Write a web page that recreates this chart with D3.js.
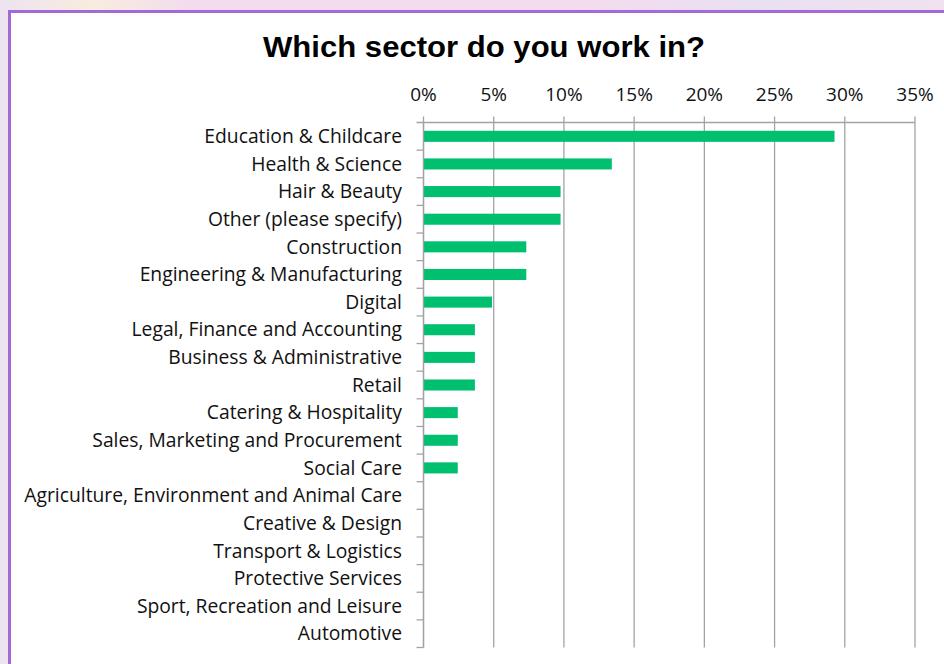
<!DOCTYPE html>
<html>
<head>
<meta charset="utf-8">
<script src="https://cdn.jsdelivr.net/npm/d3@7"></script>
<style>
  html, body { margin: 0; padding: 0; background: #f1e2f0; }
  svg { display: block; }
</style>
</head>
<body>
<svg id="chart" width="944" height="664"></svg>
<script>
// Survey answers: share of respondents per sector (%)
const sectors = [
  "Education & Childcare",
  "Health & Science",
  "Hair & Beauty",
  "Other (please specify)",
  "Construction",
  "Engineering & Manufacturing",
  "Digital",
  "Legal, Finance and Accounting",
  "Business & Administrative",
  "Retail",
  "Catering & Hospitality",
  "Sales, Marketing and Procurement",
  "Social Care",
  "Agriculture, Environment and Animal Care",
  "Creative & Design",
  "Transport & Logistics",
  "Protective Services",
  "Sport, Recreation and Leisure",
  "Automotive"
];
const shares = [29.27, 13.41, 9.76, 9.76, 7.32, 7.32, 4.88, 3.66, 3.66, 3.66, 2.44, 2.44, 2.44, 0, 0, 0, 0, 0, 0];
const tickValues = [0, 5, 10, 15, 20, 25, 30, 35];
const title = "Which sector do you work in?";

const svg = d3.select("#chart");
const W = 944, H = 664;

// backdrop with soft tint variations
const defs = svg.append("defs");
const bg = defs.append("linearGradient").attr("id", "bg").attr("x1", 0).attr("x2", 1).attr("y1", 0).attr("y2", 0);
bg.append("stop").attr("offset", "0%").attr("stop-color", "#ede3f1");
bg.append("stop").attr("offset", "10%").attr("stop-color", "#f8ecdf");
bg.append("stop").attr("offset", "20%").attr("stop-color", "#f3dcee");
bg.append("stop").attr("offset", "60%").attr("stop-color", "#f4dcee");
bg.append("stop").attr("offset", "80%").attr("stop-color", "#e9e0f1");
bg.append("stop").attr("offset", "100%").attr("stop-color", "#f0e2ef");
svg.append("rect").attr("width", W).attr("height", H).attr("fill", "url(#bg)");

// chart panel
svg.append("rect")
  .attr("x", 9.5).attr("y", 11.5)
  .attr("width", W + 20).attr("height", H + 20)
  .attr("fill", "#ffffff")
  .attr("stroke", "#a36ad6")
  .attr("stroke-width", 3);

const plotLeft = 423.5, plotRight = 915, plotTop = 122.5, plotBottom = 647.5;

const x = d3.scaleLinear().domain([0, 35]).range([plotLeft, plotRight]);
const y = d3.scaleBand().domain(sectors).range([plotTop, plotBottom]).paddingInner(0.6).paddingOuter(0.3);
const yb = d3.scaleBand().domain(sectors).range([plotTop, plotBottom]);

const gridColor = "#a3a3a3";

// vertical gridlines with small ticks above the top axis
svg.append("g")
  .selectAll("line")
  .data(tickValues)
  .join("line")
  .attr("x1", d => x(d)).attr("x2", d => x(d))
  .attr("y1", plotTop - 6).attr("y2", plotBottom)
  .attr("stroke", gridColor)
  .attr("stroke-width", 1.3);

// top axis line
svg.append("line")
  .attr("x1", plotLeft - 7).attr("x2", plotRight)
  .attr("y1", plotTop).attr("y2", plotTop)
  .attr("stroke", gridColor).attr("stroke-width", 1.3);

// category axis tick marks at band boundaries
const bounds = sectors.map(s => yb(s) + yb.bandwidth());
svg.append("g")
  .selectAll("line")
  .data(bounds)
  .join("line")
  .attr("x1", plotLeft - 7).attr("x2", plotLeft)
  .attr("y1", d => d).attr("y2", d => d)
  .attr("stroke", gridColor).attr("stroke-width", 1.3);

// bars
svg.append("g")
  .selectAll("rect")
  .data(sectors.map((s, i) => ({ s, v: shares[i] })).filter(d => d.v > 0))
  .join("rect")
  .attr("x", x(0))
  .attr("y", d => y(d.s))
  .attr("width", d => x(d.v) - x(0))
  .attr("height", y.bandwidth())
  .attr("fill", "#00bf6f");

// y-axis line
svg.append("line")
  .attr("x1", plotLeft).attr("x2", plotLeft)
  .attr("y1", plotTop).attr("y2", plotBottom)
  .attr("stroke", gridColor).attr("stroke-width", 1.3);

const labelFont = "'Open Sans', Lato, sans-serif";

// category labels
svg.append("g")
  .selectAll("text")
  .data(sectors)
  .join("text")
  .attr("x", 402)
  .attr("y", d => yb(d) + yb.bandwidth() / 2)
  .attr("dy", "0.35em")
  .attr("text-anchor", "end")
  .attr("font-family", labelFont)
  .attr("font-size", 19.3)
  .attr("fill", "#111")
  .text(d => d);

// percentage tick labels
svg.append("g")
  .selectAll("text")
  .data(tickValues)
  .join("text")
  .attr("x", d => x(d))
  .attr("y", 101)
  .attr("text-anchor", "middle")
  .attr("font-family", labelFont)
  .attr("font-size", 19)
  .attr("fill", "#111")
  .text(d => d + "%");

// title
svg.append("text")
  .attr("x", 484)
  .attr("y", 57)
  .attr("text-anchor", "middle")
  .attr("font-family", "'Liberation Sans', Arial, sans-serif")
  .attr("font-weight", "bold")
  .attr("font-size", 29)
  .attr("textLength", 442)
  .attr("lengthAdjust", "spacingAndGlyphs")
  .attr("fill", "#000")
  .text(title);
</script>
</body>
</html>
